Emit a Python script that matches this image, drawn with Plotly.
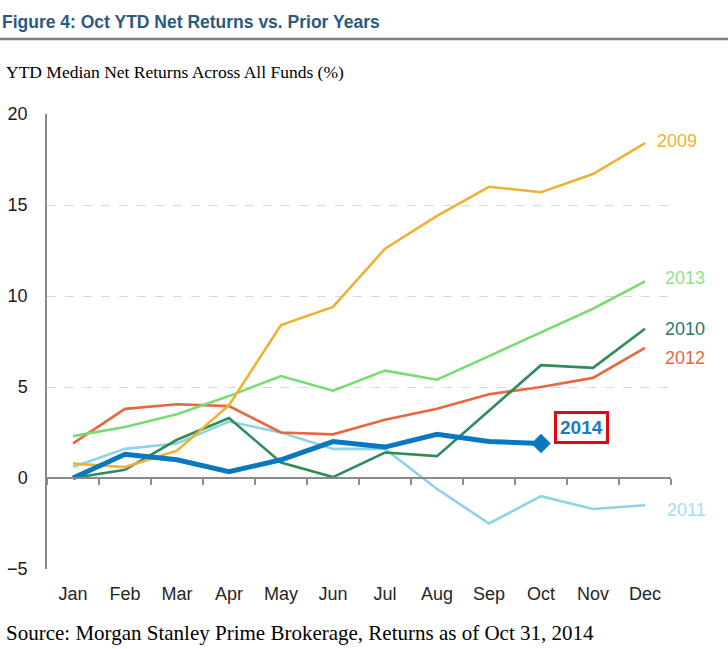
import plotly.graph_objects as go

months = ["Jan", "Feb", "Mar", "Apr", "May", "Jun", "Jul", "Aug", "Sep", "Oct", "Nov", "Dec"]
y2009 = [0.8, 0.6, 1.5, 4.0, 8.4, 9.4, 12.6, 14.4, 16.0, 15.7, 16.7, 18.4]
y2013 = [2.3, 2.8, 3.5, 4.5, 5.6, 4.8, 5.9, 5.4, 6.7, 8.0, 9.3, 10.8]
y2010 = [0.0, 0.45, 2.1, 3.3, 0.85, 0.05, 1.4, 1.2, 3.7, 6.2, 6.05, 8.2]
y2012 = [1.9, 3.8, 4.05, 3.95, 2.5, 2.4, 3.2, 3.8, 4.6, 5.0, 5.5, 7.15]
y2011 = [0.6, 1.6, 1.9, 3.1, 2.5, 1.6, 1.6, -0.6, -2.5, -1.0, -1.7, -1.5]
y2014 = [0.0, 1.3, 1.0, 0.35, 1.0, 2.0, 1.7, 2.4, 2.0, 1.9]
yticks = [-5, 0, 5, 10, 15, 20]

series = [
    ("2011", y2011, "#8ED3E6", "#A6DDEC", -1.75, 20),
    ("2012", y2012, "#E8673E", "#E8673E", 6.6, 18),
    ("2010", y2010, "#2E8B5A", "#2C7A66", 8.2, 18),
    ("2013", y2013, "#78DC72", "#8EE28A", 11.0, 18),
    ("2009", y2009, "#EFB134", "#EFB134", 18.5, 10),
]

fig = go.Figure()
for name, vals, col, lcol, ly, xs in series:
    fig.add_trace(go.Scatter(x=months[:len(vals)], y=vals, mode="lines",
                             line=dict(color=col, width=2.6), name=name,
                             showlegend=False, hoverinfo="skip"))
    fig.add_annotation(x=months[len(vals) - 1], y=ly, text=name, showarrow=False,
                       xanchor="left", xshift=xs,
                       font=dict(family="Liberation Sans, Arial", size=18, color=lcol))

fig.add_trace(go.Scatter(x=months[:len(y2014)], y=y2014, mode="lines",
                         line=dict(color="#0A78BE", width=5), showlegend=False,
                         hoverinfo="skip"))
fig.add_trace(go.Scatter(x=[months[len(y2014) - 1]], y=[y2014[-1]], mode="markers",
                         marker=dict(symbol="diamond", size=15, color="#0A78BE"),
                         showlegend=False, hoverinfo="skip"))
fig.add_annotation(x=months[len(y2014) - 1], y=2.8, text="<b>2014</b>", showarrow=False,
                   xanchor="center", xshift=40,
                   font=dict(family="Liberation Sans, Arial", size=19, color="#1B7CC2"),
                   bordercolor="#E30613", borderwidth=3, borderpad=3, bgcolor="white")

# axis at zero with boundary ticks
fig.add_trace(go.Scatter(x=[-0.5, 11.5], y=[None, None], xaxis="x2", yaxis="y",
                         showlegend=False, hoverinfo="skip"))

fig.update_layout(
    width=728, height=649,
    margin=dict(l=47, r=57, t=114, b=80),
    paper_bgcolor="white", plot_bgcolor="white",
    xaxis=dict(type="category", categoryarray=months, range=[-0.5, 11.5],
               showgrid=False, showline=False, zeroline=False, automargin=False,
               ticks="outside", ticklen=8, tickcolor="rgba(0,0,0,0)",
               tickfont=dict(family="Liberation Sans, Arial", size=18, color="#262626")),
    xaxis2=dict(overlaying="x", anchor="free", position=0.2, range=[-0.5, 11.5],
                showgrid=False, zeroline=False, showline=True, linecolor="#8A8A8A",
                linewidth=1.5, tickvals=[i - 0.5 for i in range(13)], ticks="outside",
                ticklen=6, tickwidth=1.5, tickcolor="#8A8A8A", showticklabels=False,
                automargin=False),
    yaxis=dict(range=[-5, 20], tickvals=yticks, showgrid=True, gridcolor="#D9D9D9",
               griddash="dash", gridwidth=1, zeroline=False, showline=True,
               linecolor="#8A8A8A", linewidth=1.5, automargin=False,
               ticks="outside", ticklen=14, tickcolor="rgba(0,0,0,0)",
               tickfont=dict(family="Liberation Sans, Arial", size=18, color="#1A1A1A")),
)

fig.add_annotation(xref="paper", yref="paper", x=-47 / 624, y=1 + 92 / 455,
                   xanchor="left", yanchor="middle", showarrow=False,
                   text="<b>Figure 4: Oct YTD Net Returns vs. Prior Years</b>",
                   font=dict(family="Liberation Sans, Arial", size=17.5, color="#2B5A80"))
fig.add_shape(type="line", xref="paper", yref="paper", x0=-47 / 624, x1=1 + 57 / 624,
              y0=1 + 75 / 455, y1=1 + 75 / 455, line=dict(color="#808080", width=2.5))
fig.add_annotation(xref="paper", yref="paper", x=-43 / 624, y=1 + 42 / 455,
                   xanchor="left", yanchor="middle", showarrow=False,
                   text="YTD Median Net Returns Across All Funds (%)",
                   font=dict(family="Liberation Serif, Times New Roman", size=17.5, color="#000000"))
fig.add_annotation(xref="paper", yref="paper", x=-43 / 624, y=-64 / 455,
                   xanchor="left", yanchor="middle", showarrow=False,
                   text="Source: Morgan Stanley Prime Brokerage, Returns as of Oct 31, 2014",
                   font=dict(family="Liberation Serif, Times New Roman", size=21, color="#000000"))

fig.write_html("out.html", config={"displayModeBar": False},
               post_script="document.body.style.margin='0';")
